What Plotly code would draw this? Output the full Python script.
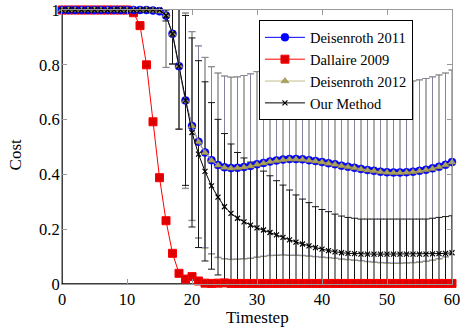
import plotly.graph_objects as go

timesteps = list(range(61))

deis2011_mean = [1.0]*14 + [0.998, 0.995,
    0.98, 0.913, 0.795, 0.67, 0.577, 0.519, 0.48, 0.452, 0.434, 0.426,
    0.423, 0.424, 0.427, 0.431, 0.437, 0.442, 0.447, 0.451, 0.454, 0.456,
    0.456, 0.455, 0.452, 0.449, 0.445, 0.441, 0.437, 0.432, 0.428, 0.424,
    0.42, 0.416, 0.413, 0.41, 0.408, 0.407, 0.407, 0.408, 0.41, 0.413,
    0.417, 0.422, 0.428, 0.435, 0.445]
deis2011_std = [0.0]*16 + [
    0.19, 0.11, 0.23, 0.32, 0.344, 0.35, 0.347, 0.341, 0.336, 0.333,
    0.332, 0.332, 0.334, 0.336, 0.338, 0.34, 0.342, 0.345, 0.347, 0.35,
    0.35, 0.35, 0.349, 0.348, 0.346, 0.344, 0.342, 0.34, 0.338, 0.336,
    0.334, 0.333, 0.332, 0.331, 0.33, 0.33, 0.33, 0.33, 0.331, 0.332,
    0.333, 0.334, 0.335, 0.335, 0.336]

deis2012_mean = [1.0]*14 + [0.998, 0.995,
    0.981, 0.912, 0.796, 0.668, 0.576, 0.518, 0.479, 0.451, 0.433, 0.425,
    0.422, 0.423, 0.426, 0.43, 0.436, 0.441, 0.446, 0.45, 0.453, 0.455,
    0.455, 0.454, 0.451, 0.448, 0.444, 0.44, 0.436, 0.431, 0.427, 0.423,
    0.419, 0.415, 0.412, 0.409, 0.407, 0.406, 0.406, 0.407, 0.409, 0.412,
    0.416, 0.421, 0.427, 0.434, 0.444]
deis2012_std = [0.0]*16 + [
    0.19, 0.11, 0.23, 0.32, 0.345, 0.351, 0.348, 0.342, 0.337, 0.334,
    0.333, 0.333, 0.335, 0.337, 0.339, 0.341, 0.343, 0.346, 0.348, 0.351,
    0.351, 0.351, 0.35, 0.349, 0.347, 0.345, 0.343, 0.341, 0.339, 0.337,
    0.335, 0.334, 0.333, 0.332, 0.331, 0.331, 0.331, 0.331, 0.332, 0.333,
    0.334, 0.335, 0.336, 0.336, 0.337]

dallaire_mean = [1.0]*11 + [
    0.99, 0.943, 0.80, 0.592, 0.388, 0.231, 0.112, 0.039, 0.018, 0.027,
    0.011, 0.003, 0.002, 0.003, 0.004] + [0.002]*35

ours_mean = [1.0]*16 + [
    0.98, 0.913, 0.795, 0.67, 0.553, 0.474, 0.411, 0.358, 0.317, 0.282,
    0.258, 0.24, 0.227, 0.215, 0.205, 0.197, 0.188, 0.179, 0.17, 0.161,
    0.153, 0.146, 0.139, 0.133, 0.127, 0.122, 0.117, 0.114, 0.112, 0.111,
    0.109, 0.109, 0.109, 0.109, 0.109, 0.109, 0.109, 0.109, 0.109, 0.109,
    0.109, 0.11, 0.111, 0.112, 0.114]
ours_std = [0.0]*16 + [
    0.02, 0.11, 0.23, 0.31, 0.345, 0.341, 0.327, 0.304, 0.284, 0.267,
    0.253, 0.24, 0.233, 0.23, 0.225, 0.215, 0.207, 0.198, 0.191, 0.182,
    0.172, 0.164, 0.158, 0.149, 0.145, 0.142, 0.138, 0.134, 0.131, 0.129,
    0.128, 0.128, 0.128, 0.128, 0.128, 0.128, 0.128, 0.128, 0.128, 0.128,
    0.128, 0.13, 0.132, 0.134, 0.135]

x_ticks = [0, 10, 20, 30, 40, 50, 60]
y_ticks = [0, 0.2, 0.4, 0.6, 0.8, 1]
y_tick_labels = ["0", "0.2", "0.4", "0.6", "0.8", "1"]
x_title = "Timestep"
y_title = "Cost"

FONT = "Liberation Serif"

fig = go.Figure()

def err_trace(y, std, color, width=1):
    return go.Scatter(
        x=timesteps, y=y, mode="markers",
        marker=dict(size=1, opacity=0),
        error_y=dict(type="data", array=std, visible=True, color=color,
                     thickness=width, width=3.5),
        showlegend=False, hoverinfo="skip", cliponaxis=True)

fig.add_trace(err_trace(deis2012_mean, deis2012_std, "#a59d5c"))
fig.add_trace(err_trace(deis2011_mean, deis2011_std, "rgba(125,125,175,0.8)"))
fig.add_trace(err_trace(ours_mean, ours_std, "#151515"))

fig.add_trace(go.Scatter(
    x=timesteps, y=dallaire_mean, mode="lines+markers", name="Dallaire 2009",
    line=dict(color="#ff0000", width=1),
    marker=dict(symbol="square", size=8, color="#dd0000",
                line=dict(color="#ff0000", width=1)),
    cliponaxis=False, legendrank=2))
fig.add_trace(go.Scatter(
    x=timesteps, y=deis2011_mean, mode="lines+markers", name="Deisenroth 2011",
    line=dict(color="#0000ff", width=1),
    marker=dict(symbol="circle", size=8, color="#0000ff",
                line=dict(color="#0000ff", width=0.5)),
    cliponaxis=False, legendrank=1))
fig.add_trace(go.Scatter(
    x=timesteps, y=deis2012_mean, mode="lines+markers", name="Deisenroth 2012",
    line=dict(color="#c4bc8c", width=1),
    marker=dict(symbol="triangle-up", size=7, color="#ada259",
                line=dict(color="#8f8540", width=0.5)),
    cliponaxis=False, legendrank=3))
fig.add_trace(go.Scatter(
    x=timesteps, y=ours_mean, mode="lines+markers", name="Our Method",
    line=dict(color="#000000", width=1),
    marker=dict(symbol="x-thin", size=5, color="#000000",
                line=dict(color="#000000", width=1.2)),
    cliponaxis=False, legendrank=4))

axis_common = dict(
    showgrid=False, zeroline=False, showline=True, linecolor="#9a9a9a",
    linewidth=1, mirror="ticks", ticks="inside", ticklen=5, tickwidth=1,
    tickcolor="#9a9a9a", automargin=False,
    tickfont=dict(family=FONT, size=16.5, color="#000000"),
)

fig.update_layout(
    width=461, height=333,
    margin=dict(l=62, r=9, t=10, b=49),
    plot_bgcolor="white", paper_bgcolor="white",
    font=dict(family=FONT, color="#000000"),
    xaxis=dict(range=[0, 60], tickvals=x_ticks, ticklabelstandoff=0,
               **axis_common),
    yaxis=dict(range=[0, 1], tickvals=y_ticks, ticktext=y_tick_labels,
               ticklabelstandoff=-2, **axis_common),
    legend=dict(x=0.505, y=0.962, xanchor="left", yanchor="top",
                bgcolor="white", bordercolor="#000000", borderwidth=1,
                font=dict(family=FONT, size=14.5, color="#000000"),
                tracegroupgap=0, itemwidth=40),
    showlegend=True,
    annotations=[
        dict(text=x_title, xref="paper", yref="paper", x=0.5, y=-0.124,
             xanchor="center", yanchor="middle", showarrow=False,
             font=dict(family=FONT, size=17, color="#000000")),
        dict(text=y_title, xref="paper", yref="paper", x=-0.12, y=0.47,
             xanchor="center", yanchor="middle", showarrow=False,
             textangle=-90,
             font=dict(family=FONT, size=17, color="#000000")),
    ],
    shapes=[
        dict(type="line", xref="paper", yref="paper", x0=0, x1=1, y0=0, y1=0,
             line=dict(color="#000000", width=1.5), layer="below"),
        dict(type="line", xref="paper", yref="paper", x0=0, x1=0, y0=0, y1=1,
             line=dict(color="#000000", width=1.5), layer="below"),
    ],
)

fig.write_html("out.html", config={"displayModeBar": False},
               post_script="document.body.style.margin='0';"
                           "document.body.style.padding='0';")
